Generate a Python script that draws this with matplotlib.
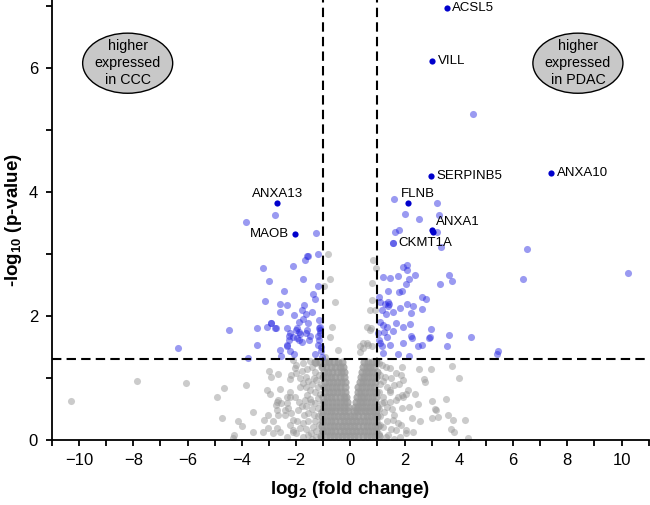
import matplotlib
matplotlib.use("Agg")
import matplotlib.pyplot as plt
from matplotlib.patches import Ellipse
from matplotlib.ticker import MultipleLocator

plt.rcParams['font.family'] = ['Liberation Sans', 'DejaVu Sans']
plt.rcParams['mathtext.fontset'] = 'custom'
plt.rcParams['mathtext.rm'] = 'Liberation Sans'
plt.rcParams['mathtext.bf'] = 'Liberation Sans:bold'

# ---------------- data ----------------
# non-significant (grey) scattered points
grey_x = [-10.29, -7.85, -6.07, -4.67, -4.90, -3.86, -4.72, -4.14, -3.99, -4.31, -4.29, -3.59, -3.59,
          -3.01, -2.93, -2.66, -3.06, -2.97, -2.60, -2.23, -2.66, -2.75, -2.23, -2.42, -3.03, -3.19,
          -2.66, -2.85, -3.22, -2.72, -2.42, -2.23, -2.11, -3.03, -2.17, -2.35, -2.23, -2.72, -2.54,
          -2.35, -2.72, -2.29, -2.17, -1.99, -2.05, -2.85, -2.60, -2.35, -2.11,
          -2.11, -1.74, -1.43, -1.99, -1.62, -1.25, -1.86, -1.49, -1.13, -2.05, -1.68, -1.31, -1.93,
          -1.56, -1.19, -2.11, -1.74, -1.37, -1.06, -1.99, -1.56, -1.25,
          -1.50, -1.30, -1.80, -1.40, -1.20, -1.60, -1.80, -1.40, -1.30, -1.70, -1.15, -1.85, -1.45,
          -1.05, -1.15, -1.35, -1.55, -1.75, -1.10, -1.30, -1.50, -1.05, -1.20, -1.65, -1.90, -1.10,
          -1.35, -1.55, -1.05, -1.25, -1.65, -1.10, -1.40, -1.75, -1.95, -1.60, -1.25, -1.85, -1.45,
          -1.20, -1.65,
          1.15, 1.46, 1.70, 1.27, 1.95, 1.09, 1.46, 1.21, 1.70, 2.07, 1.34, 1.09, 1.58, 1.21, 1.70,
          2.07, 1.74, 1.89, 1.46, 1.74, 1.40, 1.83,
          1.05, 1.30, 1.10, 1.50, 1.20, 1.35, 1.05, 1.60, 1.15, 1.45, 1.05, 1.25, 1.55, 1.10, 1.35,
          1.50, 1.05, 1.30, 1.60, 1.85, 1.25, 1.60, 1.80,
          1.89, 1.85, 2.54, 2.96, 3.73, 2.71, 2.75, 4.00, 2.13, 2.38, 1.93, 3.00, 3.52, 2.48, 2.17,
          3.12, 1.89, 3.59, 2.26, 2.56, 3.02, 3.24, 3.79, 4.23, 3.71, 3.83, 2.05, 2.32, 4.35, 3.15,
          0.84, 0.94, 0.78, 0.78, 0.72, 0.90, -0.84, -0.76, -0.98, -0.57, 0.62, 0.75, 0.72, 0.60,
          0.78, 0.66, 0.47, 0.35, 0.47, 0.35, -0.45, -0.69, -0.76, -0.94, -0.82]
grey_y = [0.63, 0.95, 0.92, 0.84, 0.70, 0.89, 0.35, 0.30, 0.23, 0.04, 0.08, 0.45, 0.13,
          1.12, 1.02, 1.06, 0.81, 0.75, 0.82, 0.99, 0.65, 0.56, 0.70, 0.48, 0.40, 0.33,
          0.40, 0.30, 0.13, 0.19, 0.40, 0.24, 0.13, 0.19, 1.05, 0.70, 0.78, 0.62, 0.59,
          0.59, 0.48, 0.51, 0.43, 1.21, 1.16, 0.11, 0.13, 0.05, 0.16,
          1.29, 1.24, 1.18, 1.08, 1.02, 0.97, 0.86, 0.81, 0.75, 0.70, 0.65, 0.59, 0.48,
          0.43, 0.38, 0.32, 0.27, 0.21, 0.16, 0.11, 0.08, 0.05,
          1.27, 1.10, 1.12, 0.90, 0.85, 0.72, 0.55, 0.50, 0.30, 0.40, 0.25, 0.20, 0.12,
          1.20, 1.05, 1.00, 0.95, 0.92, 0.90, 0.78, 0.66, 0.60, 0.52, 0.55, 0.62, 0.45,
          0.40, 0.30, 0.30, 0.15, 0.18, 0.05, 0.02, 0.05, 0.30, 1.15, 1.25, 1.00, 0.62,
          0.68, 0.85,
          1.21, 1.16, 1.08, 1.02, 0.97, 0.91, 0.81, 0.70, 0.65, 0.75, 0.54, 0.38, 0.32, 0.21, 0.16,
          0.11, 0.70, 0.73, 0.78, 0.28, 0.08, 0.05,
          1.25, 1.18, 1.05, 1.00, 0.95, 0.85, 0.78, 0.88, 0.60, 0.62, 0.50, 0.45, 0.50, 0.25, 0.30,
          0.18, 0.10, 0.05, 0.02, 0.25, 0.62, 0.40, 0.90,
          1.18, 1.05, 1.15, 1.15, 1.19, 0.98, 0.93, 1.00, 0.81, 0.75, 0.70, 0.63, 0.66, 0.58, 0.53,
          0.50, 0.51, 0.40, 0.36, 0.31, 0.35, 0.37, 0.32, 0.33, 0.18, 0.13, 0.16, 0.13, 0.04, 0.48,
          2.90, 2.78, 2.53, 2.26, 2.10, 2.09, 3.00, 2.60, 2.49, 2.23, 1.83, 1.80, 1.77, 1.56,
          1.51, 1.53, 1.56, 1.51, 1.48, 1.42, 1.45, 1.83, 1.67, 1.34, 1.28]

# dense non-significant core (rows of -log10 p and the fold changes in each row)
core_row_y = [1.26, 1.18, 1.10, 1.02, 0.94, 0.86, 0.78, 0.70, 0.62, 0.54, 0.46,
              0.38, 0.30, 0.22, 0.14, 0.06]
core_row_x = [
    [-1.30, -1.12, -0.95, -0.78, -0.60, -0.45, -0.30, 0.50, 0.65, 0.80, 0.93],
    [-1.05, -0.88, -0.72, -0.56, -0.40, -0.26, 0.46, 0.60, 0.74, 0.88],
    [-0.98, -0.82, -0.66, -0.50, -0.35, -0.22, 0.42, 0.56, 0.70, 0.84, 0.97],
    [-1.00, -0.85, -0.70, -0.55, -0.40, -0.24, 0.38, 0.52, 0.66, 0.80, 0.93],
    [-0.95, -0.80, -0.64, -0.48, -0.33, -0.20, 0.34, 0.48, 0.62, 0.76, 0.90],
    [-0.98, -0.83, -0.68, -0.52, -0.37, -0.21, 0.30, 0.44, 0.58, 0.72, 0.86],
    [-0.95, -0.80, -0.65, -0.50, -0.35, -0.19, 0.27, 0.41, 0.55, 0.69, 0.83, 0.96],
    [-1.00, -0.85, -0.70, -0.55, -0.40, -0.25, -0.15, 0.24, 0.38, 0.52, 0.66, 0.80, 0.93],
    [-0.97, -0.82, -0.67, -0.52, -0.37, -0.22, -0.12, 0.20, 0.34, 0.48, 0.62, 0.76, 0.90],
    [-0.98, -0.83, -0.68, -0.53, -0.38, -0.24, -0.10, 0.16, 0.30, 0.44, 0.58, 0.72, 0.86, 0.98],
    [-1.00, -0.85, -0.70, -0.55, -0.40, -0.25, -0.10, 0.12, 0.26, 0.40, 0.54, 0.68, 0.82, 0.95],
    [-1.05, -0.90, -0.75, -0.60, -0.45, -0.30, -0.15, 0.00, 0.15, 0.30, 0.45, 0.60, 0.75, 0.90, 1.00],
    [-1.00, -0.85, -0.70, -0.55, -0.40, -0.25, -0.10, 0.05, 0.20, 0.35, 0.50, 0.65, 0.80, 0.95],
    [-1.05, -0.90, -0.75, -0.60, -0.45, -0.30, -0.15, 0.00, 0.15, 0.30, 0.45, 0.60, 0.75, 0.90, 1.02],
    [-1.00, -0.85, -0.70, -0.55, -0.40, -0.25, -0.10, 0.05, 0.20, 0.35, 0.50, 0.65, 0.80, 0.95],
    [-1.08, -0.90, -0.75, -0.60, -0.45, -0.30, -0.15, 0.00, 0.15, 0.30, 0.45, 0.60, 0.75, 0.90, 1.05],
]

# significant (blue) points
sig_x = [-2.79, -3.83, -1.26, -1.21, -1.59, -1.68, -3.22, -2.10, -1.76, -3.00, -1.19, -2.44, -1.37,
         -1.30, -3.14, -2.33, -1.70, -1.78, -1.41, -2.61, -2.07, -1.65, -1.73, -2.94, -1.90, -1.56,
         -1.15, -4.49, -3.44, -3.06, -2.76, -2.32, -1.97, -2.23, -2.12, -1.85, -1.64, -1.47, -1.17,
         -1.13, -1.12, -1.21, -2.26, -1.91, -1.54, -3.44, -2.35, -1.19, -2.23, -2.08, -2.56, -1.31,
         -1.09, -3.77, -1.06, -6.37, -2.60, -2.60, -2.33, -2.93, -2.75, -1.57,
         -2.00, -1.88, -1.60, -1.95, -2.28, -1.78, -1.13, -1.15, -1.10,
         1.61, 3.20, 2.00, 2.53, 3.28, 1.64, 1.79, 3.18, 3.34, 1.58, 6.50, 4.53, 6.35, 10.25, 5.45,
         5.39, 1.95, 2.08, 2.10, 1.21, 1.46, 1.74, 2.38, 2.17, 3.65, 3.75, 3.31, 2.07, 1.39, 1.80,
         1.89, 1.06, 2.63, 2.79, 1.43, 1.38, 1.11, 1.83, 2.10, 2.32, 1.17, 1.58, 2.23, 2.63, 1.28,
         1.31, 1.21, 1.36, 1.70, 1.93, 2.20, 1.58, 1.25, 1.03, 1.34, 2.23, 2.93, 3.65, 4.45, 1.11,
         1.46, 1.93, 2.50, 3.55, 1.21, 1.76, 2.17, 2.97, 2.91, 2.28, 2.65, 1.15, 1.05, 1.08, 1.40]
sig_y = [3.63, 3.51, 3.34, 3.00, 2.97, 2.90, 2.77, 2.81, 2.60, 2.56, 2.49, 2.41, 2.35,
         2.27, 2.25, 2.18, 2.18, 2.09, 2.06, 2.06, 2.02, 2.03, 1.95, 1.89, 1.90, 1.88,
         1.94, 1.77, 1.80, 1.82, 1.81, 1.80, 1.81, 1.73, 1.67, 1.71, 1.72, 1.68, 1.80,
         1.83, 1.78, 1.68, 1.62, 1.62, 1.61, 1.53, 1.53, 1.53, 1.44, 1.39, 1.36, 1.39,
         1.44, 1.32, 1.34, 1.48, 2.19, 1.45, 1.52, 1.88, 1.81, 2.97,
         1.78, 1.75, 1.78, 1.65, 1.68, 1.58, 1.72, 1.62, 1.50,
         3.89, 3.83, 3.64, 3.56, 3.63, 3.35, 3.39, 3.35, 3.12, 3.18, 3.08, 5.26, 2.59, 2.70, 1.44,
         1.39, 2.79, 2.82, 2.74, 2.63, 2.61, 2.65, 2.66, 2.59, 2.67, 2.57, 2.52, 2.52, 2.40, 2.39,
         2.40, 2.30, 2.30, 2.27, 2.19, 2.17, 2.22, 2.13, 2.19, 2.16, 2.10, 2.07, 2.05, 2.11, 2.20,
         2.04, 1.85, 1.83, 1.88, 1.83, 1.87, 1.76, 1.75, 1.72, 1.67, 1.68, 1.67, 1.69, 1.67, 1.56,
         1.53, 1.56, 1.52, 1.51, 1.40, 1.39, 1.36, 1.79, 1.64, 1.65, 1.53, 1.52, 1.62, 1.90, 2.22]

# highlighted proteins
hl_names = ["ACSL5", "VILL", "SERPINB5", "ANXA10", "FLNB", "ANXA1", "", "ANXA13", "MAOB"]
hl_x = [3.55, 3.02, 2.97, 7.40, 2.13, 3.00, 3.03, -2.69, -2.05]
hl_y = [6.97, 6.12, 4.26, 4.31, 3.83, 3.39, 3.35, 3.83, 3.32]

# labelled but non-highlighted protein
lab_name = "CKMT1A"
lab_x = 1.58
lab_y = 3.18

# thresholds
fc_cut = 1.0
p_cut = 1.301

# annotation layout (offsets in points, alignment)
label_layout = {
    "ACSL5": ((4, 0), "left", "center"),
    "VILL": ((4, 0), "left", "center"),
    "SERPINB5": ((4, 0), "left", "center"),
    "ANXA10": ((4, 0), "left", "center"),
    "FLNB": ((7, 6.5), "center", "center"),
    "ANXA1": ((3, 6), "left", "center"),
    "ANXA13": ((0, 6), "center", "center"),
    "MAOB": ((-4, 0), "right", "center"),
    "CKMT1A": ((4, 0), "left", "center"),
}

# ---------------- plot ----------------
fig = plt.figure(figsize=(6.5, 5.05), dpi=100)
ax = fig.add_axes([0.08, 0.1287, 0.918, 0.8713])

core_x = [x for row in core_row_x for x in row]
core_y = [y for y, row in zip(core_row_y, core_row_x) for _ in row]

ax.scatter(grey_x, grey_y, s=26, color='#999999', alpha=0.5, linewidths=0, zorder=2)
ax.scatter(core_x, core_y, s=34, color='#999999', alpha=0.75, linewidths=0, zorder=2)
ax.scatter(sig_x, sig_y, s=26, color='#2020e0', alpha=0.45, linewidths=0, zorder=3)
ax.scatter(lab_x, lab_y, s=26, color='#2020e0', alpha=0.45, linewidths=0, zorder=3)
ax.scatter(hl_x, hl_y, s=20, color='#0000cc', linewidths=0, zorder=4)

dash = (0, (4.5, 2.5))
ax.axvline(-fc_cut, color='black', lw=1.5, ls=dash, zorder=5)
ax.axvline(fc_cut, color='black', lw=1.5, ls=dash, zorder=5)
ax.axhline(p_cut, color='black', lw=1.5, ls=dash, zorder=5)

for name, x, y in list(zip(hl_names, hl_x, hl_y)) + [(lab_name, lab_x, lab_y)]:
    if not name:
        continue
    off, ha, va = label_layout[name]
    ax.annotate(name, (x, y), xytext=off, textcoords='offset points',
                ha=ha, va=va, fontsize=9.5, zorder=6)

# group ellipses
for cx, txt in [(-8.21, "higher\nexpressed\nin CCC"), (8.39, "higher\nexpressed\nin PDAC")]:
    ax.add_patch(Ellipse((cx, 6.08), 3.32, 0.97, facecolor='#c8c8c8',
                         edgecolor='black', lw=1.0, zorder=6))
    ax.text(cx, 6.08, txt, ha='center', va='center', fontsize=10.3,
            linespacing=1.25, zorder=7)

ax.set_xlim(-11, 11)
ax.set_ylim(0, 7.1)
ax.xaxis.set_major_locator(MultipleLocator(2))
ax.xaxis.set_minor_locator(MultipleLocator(1))
ax.yaxis.set_major_locator(MultipleLocator(2))
ax.yaxis.set_minor_locator(MultipleLocator(1))
ax.tick_params(which='both', direction='out', length=4, width=1.3, labelsize=12)
ax.tick_params(axis='x', pad=5)
ax.tick_params(axis='y', pad=6)

for s in ['top', 'right']:
    ax.spines[s].set_visible(False)
for s in ['left', 'bottom']:
    ax.spines[s].set_linewidth(1.3)

ax.set_xlabel(r'log$_\mathbf{2}$ (fold change)', fontsize=13.5, fontweight='bold', labelpad=8)
ax.set_ylabel(r'-log$_\mathbf{10}$ (p-value)', fontsize=13.5, fontweight='bold')
ax.yaxis.set_label_coords(-0.047, 0.5)

fig.savefig('out.png', dpi=100)
